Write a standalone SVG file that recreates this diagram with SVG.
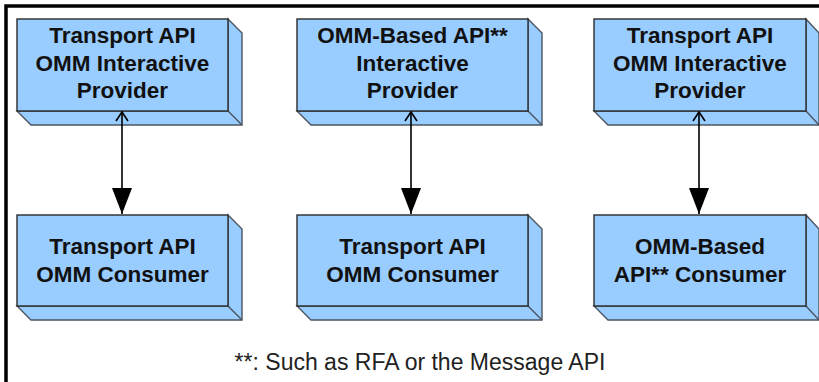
<svg xmlns="http://www.w3.org/2000/svg" width="819" height="382" viewBox="0 0 819 382">
<defs>
<style>
.face{fill:#99ccff;stroke:#2b2b2b;stroke-width:1.4;stroke-linejoin:miter}
.side{fill:#99ccff;stroke:#4a5560;stroke-width:1.4;stroke-linejoin:miter}
.lbl{font-family:"Liberation Sans",Arial,sans-serif;font-weight:bold;font-size:22.5px;fill:#111;text-anchor:middle}
.note{font-family:"Liberation Sans",Arial,sans-serif;font-size:23px;fill:#222;text-anchor:middle}
.conn{stroke:#000;stroke-width:1.6;fill:none}
</style>
<marker id="filled" viewBox="0 0 26 20" refX="26" refY="10" markerWidth="26" markerHeight="20" markerUnits="userSpaceOnUse" orient="auto">
<path d="M0,0 L26,10 L0,20 Z" fill="#000"/>
</marker>
<marker id="open" viewBox="0 0 12 14" refX="10" refY="7" markerWidth="12" markerHeight="14" markerUnits="userSpaceOnUse" orient="auto-start-reverse">
<path d="M1,1 L10,7 L1,13" fill="none" stroke="#000" stroke-width="1.6"/>
</marker>
</defs>
<path d="M6,382 V6 H819" fill="none" stroke="#000" stroke-width="3.5"/>

<g id="tp-provider-1">
<path class="side" d="M228,19 L242,33 L242,125 L31,125 L17,111 L228,111 Z"/>
<path class="side" d="M228,111 L242,125"/>
<rect class="face" x="17" y="19" width="211" height="92"/>
<text class="lbl" x="122.5" y="43">Transport API</text>
<text class="lbl" x="122.5" y="71">OMM Interactive</text>
<text class="lbl" x="122.5" y="98">Provider</text>
</g>

<g id="tp-consumer-1">
<path class="side" d="M228,215 L242,229 L242,320 L31,320 L17,306 L228,306 Z"/>
<path class="side" d="M228,306 L242,320"/>
<rect class="face" x="17" y="215" width="211" height="91"/>
<text class="lbl" x="122.5" y="254">Transport API</text>
<text class="lbl" x="122.5" y="282">OMM Consumer</text>
</g>

<g id="omm-provider">
<path class="side" d="M528,19 L542,33 L542,125 L311,125 L297,111 L528,111 Z"/>
<path class="side" d="M528,111 L542,125"/>
<rect class="face" x="297" y="19" width="231" height="92"/>
<text class="lbl" x="412.5" y="43">OMM-Based API**</text>
<text class="lbl" x="412.5" y="71">Interactive</text>
<text class="lbl" x="412.5" y="98">Provider</text>
</g>

<g id="tp-consumer-2">
<path class="side" d="M528,215 L542,229 L542,320 L311,320 L297,306 L528,306 Z"/>
<path class="side" d="M528,306 L542,320"/>
<rect class="face" x="297" y="215" width="231" height="91"/>
<text class="lbl" x="412.5" y="254">Transport API</text>
<text class="lbl" x="412.5" y="282">OMM Consumer</text>
</g>

<g id="tp-provider-2">
<path class="side" d="M806,19 L819,33 L819,125 L608,125 L594,111 L806,111 Z"/>
<path class="side" d="M806,111 L819,125"/>
<rect class="face" x="594" y="19" width="212" height="92"/>
<text class="lbl" x="700" y="43">Transport API</text>
<text class="lbl" x="700" y="71">OMM Interactive</text>
<text class="lbl" x="700" y="98">Provider</text>
</g>

<g id="omm-consumer">
<path class="side" d="M806,215 L819,229 L819,320 L608,320 L594,306 L806,306 Z"/>
<path class="side" d="M806,306 L819,320"/>
<rect class="face" x="594" y="215" width="212" height="91"/>
<text class="lbl" x="700" y="254">OMM-Based</text>
<text class="lbl" x="700" y="282">API** Consumer</text>
</g>

<g id="connectors">
<line class="conn" x1="122" y1="112" x2="122" y2="214" marker-start="url(#open)" marker-end="url(#filled)"/>
<line class="conn" x1="411" y1="112" x2="411" y2="214" marker-start="url(#open)" marker-end="url(#filled)"/>
<line class="conn" x1="699" y1="112" x2="699" y2="214" marker-start="url(#open)" marker-end="url(#filled)"/>
</g>

<text class="note" x="420" y="370">**: Such as RFA or the Message API</text>
</svg>
